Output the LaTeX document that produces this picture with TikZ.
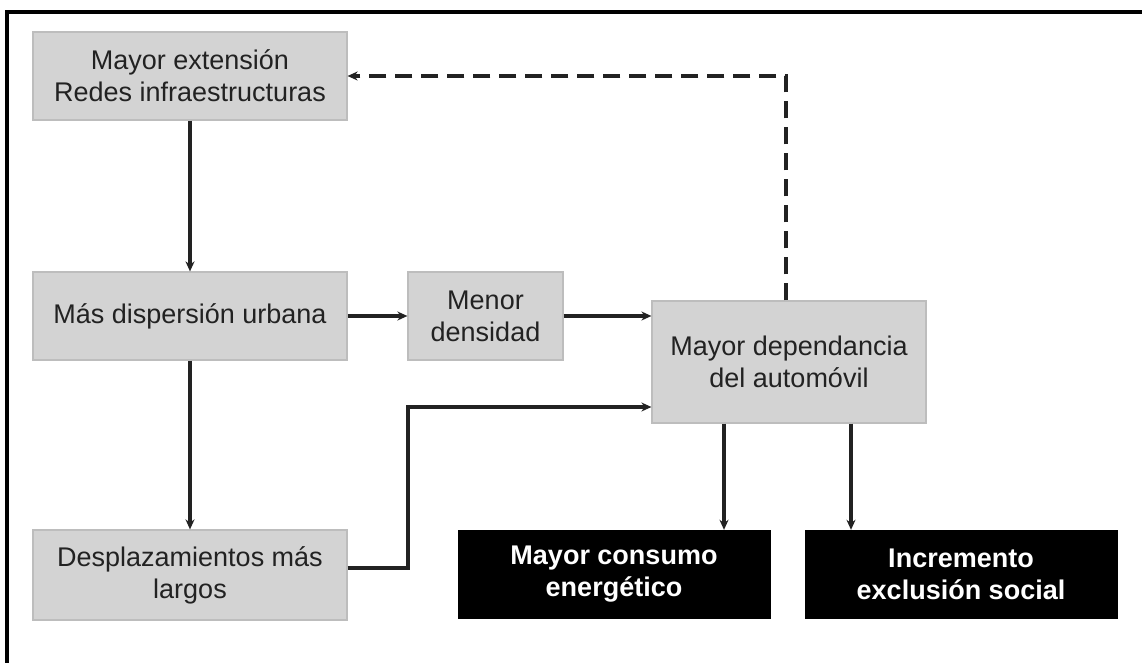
\documentclass[tikz,border=0pt]{standalone}
\usepackage{fontspec}
\setmainfont{Liberation Sans}
\usetikzlibrary{arrows.meta,positioning}
\definecolor{boxgrey}{HTML}{D3D3D3}
\definecolor{boxedge}{HTML}{BDBDBD}
\definecolor{ink}{HTML}{222222}
\tikzset{
  greybox/.style={draw=boxedge, line width=1.2pt, fill=boxgrey, text=ink, align=center,
    inner sep=0pt, font=\fontsize{27}{32}\selectfont},
  blackbox/.style={draw=black, fill=black, text=white, align=center,
    inner sep=0pt, font=\bfseries\fontsize{27}{32}\selectfont},
  arr/.style={draw=ink, line width=3.4pt, -{Stealth[length=10pt,width=9pt]}},
  dasharr/.style={arr, line width=3.8pt, dash pattern=on 17pt off 9pt},
}
\begin{document}
\begin{tikzpicture}[x=1pt,y=-1pt]
  \useasboundingbox (0,0) rectangle (1142,663);
  \fill[white] (0,0) rectangle (1142,663);
  % outer frame (right and bottom sides fall outside the page)
  \draw[black, line width=3.2pt] (7,680) -- (7,12) -- (1160,12);

  % boxes
  \node[greybox, minimum width=314pt, minimum height=88pt] (ext) at (190,76)
    {Mayor extensión\\Redes infraestructuras};
  \node[greybox, minimum width=314pt, minimum height=88pt] (disp) at (190,316)
    {Más dispersión urbana};
  \node[greybox, minimum width=155pt, minimum height=88pt] (dens) at (485.5,316)
    {Menor\\densidad};
  \node[greybox, minimum width=274pt, minimum height=122pt] (dep) at (789,362)
    {Mayor dependancia\\del automóvil};
  \node[greybox, minimum width=314pt, minimum height=90pt] (desp) at (190,575)
    {Desplazamientos más\\largos};
  \node[blackbox, minimum width=312pt, minimum height=88pt] (cons) at (614,574)
    {Mayor consumo\\energético};
  \node[blackbox, minimum width=312pt, minimum height=88pt] (excl) at (961,574)
    {Incremento\\exclusión social};

  % connectors
  \draw[arr] (ext.south) -- (disp.north);
  \draw[arr] (disp.east) -- (dens.west);
  \draw[arr] (dens.east) -- (dens.east -| dep.west);
  \draw[arr] (disp.south) -- (desp.north);
  \coordinate (turn) at (408,407);
  \draw[arr] ([yshift=7pt]desp.east) -| (turn) -- (turn -| dep.west);
  \draw[arr] ([xshift=-65pt]dep.south) -- ([xshift=-65pt]dep.south |- cons.north);
  \draw[arr] ([xshift=62pt]dep.south) -- ([xshift=62pt]dep.south |- excl.north);
  \draw[dasharr] ([xshift=-3pt]dep.north) |- (ext.east);
\end{tikzpicture}
\end{document}
